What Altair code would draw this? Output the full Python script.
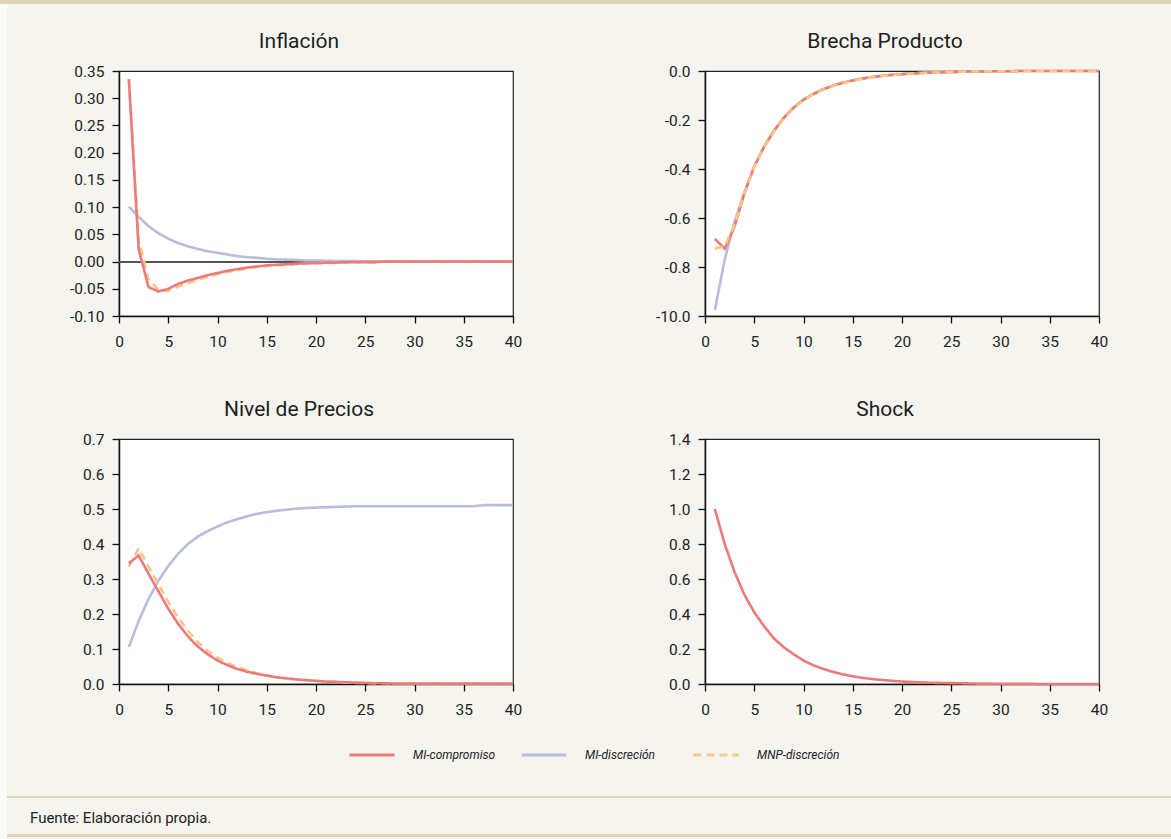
import altair as alt
import pandas as pd

FONT = "Roboto"

t = list(range(1, 41))
series = ["MI-compromiso", "MI-discreción", "MNP-discreción"]
colors = ["#EC7A7B", "#B8BDDB", "#F9C684"]
dashes = [[1, 0], [1, 0], [8, 5]]

# ---- Inflación
infl_comp = [0.335, 0.022, -0.047, -0.055, -0.050, -0.041, -0.035, -0.030, -0.025, -0.021,
             -0.017, -0.014, -0.011, -0.009, -0.007, -0.006, -0.005, -0.004, -0.003, -0.003,
             -0.002, -0.002, -0.001, -0.001, -0.001, -0.001, 0.0, 0.0, 0.0, 0.0,
             0.0, 0.0, 0.0, 0.0, 0.0, 0.0, 0.0, 0.0, 0.0, 0.0]
infl_disc = [0.101, 0.082, 0.065, 0.052, 0.042, 0.034, 0.028, 0.023, 0.019, 0.016,
             0.013, 0.010, 0.008, 0.007, 0.005, 0.004, 0.0035, 0.003, 0.002, 0.002,
             0.0015, 0.001, 0.001, 0.001, 0.0005, 0.0005, 0.0, 0.0, 0.0, 0.0,
             0.0, 0.0, 0.0, 0.0, 0.0, 0.0, 0.0, 0.0, 0.0, 0.0]
infl_mnp = [0.335, 0.040, -0.033, -0.052, -0.054, -0.046, -0.040, -0.034, -0.028, -0.023,
            -0.019, -0.016, -0.013, -0.010, -0.008, -0.007, -0.006, -0.005, -0.004, -0.003,
            -0.003, -0.002, -0.002, -0.001, -0.001, -0.001, 0.0, 0.0, 0.0, 0.0,
            0.0, 0.0, 0.0, 0.0, 0.0, 0.0, 0.0, 0.0, 0.0, 0.0]

# ---- Brecha Producto
brecha_comp = [-0.685, -0.725, -0.635, -0.500, -0.390, -0.310, -0.245, -0.192, -0.150, -0.118,
               -0.094, -0.075, -0.060, -0.048, -0.039, -0.031, -0.025, -0.020, -0.016, -0.013,
               -0.010, -0.008, -0.006, -0.005, -0.004, -0.003, -0.002, -0.002, -0.001, -0.001,
               -0.001, 0.0, 0.0, 0.0, 0.0, 0.0, 0.0, 0.0, 0.0, 0.0]
brecha_disc = [-0.975, -0.770, -0.615, -0.495, -0.390, -0.308, -0.243, -0.190, -0.148, -0.116,
               -0.093, -0.074, -0.059, -0.047, -0.038, -0.030, -0.024, -0.019, -0.015, -0.012,
               -0.010, -0.008, -0.006, -0.005, -0.004, -0.003, -0.002, -0.002, -0.001, -0.001,
               -0.001, 0.0, 0.0, 0.0, 0.0, 0.0, 0.0, 0.0, 0.0, 0.0]
brecha_mnp = [-0.725, -0.715, -0.628, -0.502, -0.392, -0.312, -0.247, -0.194, -0.152, -0.119,
              -0.095, -0.076, -0.061, -0.049, -0.040, -0.032, -0.026, -0.020, -0.016, -0.013,
              -0.010, -0.008, -0.006, -0.005, -0.004, -0.003, -0.002, -0.002, -0.001, -0.001,
              -0.001, 0.0, 0.0, 0.0, 0.0, 0.0, 0.0, 0.0, 0.0, 0.0]

# ---- Nivel de Precios
precios_comp = [0.345, 0.367, 0.315, 0.265, 0.215, 0.172, 0.136, 0.107, 0.085, 0.067,
                0.054, 0.043, 0.035, 0.029, 0.024, 0.019, 0.016, 0.013, 0.011, 0.009,
                0.007, 0.006, 0.005, 0.004, 0.003, 0.002, 0.002, 0.001, 0.001, 0.001,
                0.001, 0.001, 0.001, 0.001, 0.001, 0.001, 0.001, 0.001, 0.001, 0.001]
precios_disc = [0.106, 0.180, 0.243, 0.295, 0.337, 0.372, 0.400, 0.421, 0.437, 0.450,
                0.462, 0.471, 0.479, 0.486, 0.491, 0.495, 0.498, 0.501, 0.503, 0.504,
                0.505, 0.506, 0.507, 0.508, 0.508, 0.508, 0.508, 0.508, 0.508, 0.508,
                0.508, 0.508, 0.508, 0.508, 0.508, 0.508, 0.511, 0.511, 0.511, 0.511]
precios_mnp = [0.335, 0.388, 0.335, 0.285, 0.235, 0.190, 0.152, 0.120, 0.095, 0.075,
               0.060, 0.048, 0.039, 0.031, 0.025, 0.020, 0.016, 0.013, 0.011, 0.009,
               0.007, 0.006, 0.004, 0.003, 0.003, 0.002, 0.002, 0.001, 0.001, 0.001,
               0.001, 0.001, 0.001, 0.001, 0.001, 0.001, 0.001, 0.001, 0.001, 0.001]

# ---- Shock
shock_comp = [1.000, 0.800, 0.640, 0.510, 0.410, 0.330, 0.260, 0.210, 0.170, 0.134,
              0.107, 0.086, 0.069, 0.055, 0.044, 0.035, 0.028, 0.023, 0.018, 0.014,
              0.012, 0.009, 0.007, 0.006, 0.005, 0.004, 0.003, 0.002, 0.002, 0.001,
              0.001, 0.001, 0.001, 0.0, 0.0, 0.0, 0.0, 0.0, 0.0, 0.0]


def long(pairs):
    rows = []
    for name, vals in pairs:
        for ti, v in zip(t, vals):
            rows.append({"t": ti, "v": v, "serie": name})
    return pd.DataFrame(rows)


MINUS = "\u2212"
W, H = 394, 245

leg = alt.Legend(title=None, orient="none", legendX=229, legendY=660, direction="horizontal",
                 columns=3, symbolType="stroke", symbolSize=2025, symbolStrokeWidth=3,
                 labelFont=FONT, labelFontSize=12, labelFontStyle="italic", labelColor="#222",
                 labelOffset=17, columnPadding=19, gridAlign="all", padding=0)


def panel(df, title, ydomain, yvalues, fmt, expr=None, zero=False):
    lab = expr if expr else f"replace(format(datum.value, '{fmt}'), '{MINUS}', '-')"
    yscale = alt.Scale(domain=ydomain, nice=False, zero=False)
    yaxis = alt.Axis(values=yvalues, title=None, labelExpr=lab, labelPadding=8,
                     labelFlush=False, labelOverlap=False)
    lines = alt.Chart(df).mark_line(strokeWidth=2.6).encode(
        x=alt.X("t:Q", scale=alt.Scale(domain=[0, 40], nice=False),
                axis=alt.Axis(values=list(range(0, 41, 5)), title=None, labelPadding=11,
                              labelFlush=False, labelOverlap=False)),
        y=alt.Y("v:Q", scale=yscale, axis=yaxis),
        color=alt.Color("serie:N", scale=alt.Scale(domain=series, range=colors), legend=leg),
        strokeDash=alt.StrokeDash("serie:N", scale=alt.Scale(domain=series, range=dashes), legend=leg),
    )
    layers = []
    if zero:
        layers.append(alt.Chart(df).mark_rule(color="#555555", strokeWidth=1.2).encode(
            y=alt.YDatum(0, scale=yscale, axis=yaxis)))
    layers.append(lines)
    return alt.layer(*layers).properties(
        width=W, height=H,
        title=alt.TitleParams(title, fontSize=21, font=FONT, fontWeight="normal",
                              color="#1e1e1e", offset=12, anchor="middle", frame="group", dx=-17))


one = pd.DataFrame({"a": [0]})
TAN = "#DFD4B4"
# page frame decorations, placed relative to the footer cell origin (x=119, y=807 on the page)
footer = alt.layer(
    alt.Chart(one).mark_rect(color="#FBFBF9").encode(
        x=alt.value(-119), x2=alt.value(-112), y=alt.value(-807), y2=alt.value(32)),
    alt.Chart(one).mark_rect(color=TAN).encode(
        x=alt.value(-119), x2=alt.value(1052), y=alt.value(-807), y2=alt.value(-803)),
    alt.Chart(one).mark_rect(color=TAN).encode(
        x=alt.value(-112), x2=alt.value(1052), y=alt.value(-11), y2=alt.value(-9)),
    alt.Chart(one).mark_rect(color=TAN).encode(
        x=alt.value(-112), x2=alt.value(1052), y=alt.value(27), y2=alt.value(30)),
    alt.Chart(one).mark_text(text="Fuente: Elaboración propia.", align="left", baseline="middle",
                             font=FONT, fontSize=15, color="#222").encode(
        x=alt.value(-89), y=alt.value(11)),
).properties(width=W, height=1, view=alt.ViewBackground(strokeOpacity=0, fillOpacity=0))

# draw order per panel: later series are drawn on top
p1 = panel(long([("MI-discreción", infl_disc), ("MNP-discreción", infl_mnp), ("MI-compromiso", infl_comp)]),
           "Inflación", [-0.10, 0.35],
           [-0.10, -0.05, 0.0, 0.05, 0.10, 0.15, 0.20, 0.25, 0.30, 0.35], ".2f", zero=True)
p2 = panel(long([("MI-discreción", brecha_disc), ("MI-compromiso", brecha_comp), ("MNP-discreción", brecha_mnp)]),
           "Brecha Producto", [-1.0, 0.0], [-1.0, -0.8, -0.6, -0.4, -0.2, 0.0], ".1f",
           expr=f"datum.value < -0.9 ? '-10.0' : replace(format(datum.value, '.1f'), '{MINUS}', '-')")
p3 = panel(long([("MI-discreción", precios_disc), ("MNP-discreción", precios_mnp), ("MI-compromiso", precios_comp)]),
           "Nivel de Precios", [0.0, 0.7], [0.0, 0.1, 0.2, 0.3, 0.4, 0.5, 0.6, 0.7], ".1f")
p4 = panel(long([("MI-compromiso", shock_comp)]),
           "Shock", [0.0, 1.4], [0.0, 0.2, 0.4, 0.6, 0.8, 1.0, 1.2, 1.4], ".1f")

chart = alt.concat(
    p1, p2, p3, p4, footer, columns=2, bounds="flush",
    spacing={"row": 123, "column": 192},
).properties(
    background="#F5F4EF", padding=0
).configure_view(
    stroke="#222222", strokeWidth=1.2, fill="white"
).configure_axis(
    domainColor="#111111", domainWidth=1.5, tickColor="#111111", tickWidth=1.3, tickSize=7,
    labelFont=FONT, labelFontSize=15.5, labelColor="#222222", grid=False
)

chart.save("out.html", embed_options={"renderer": "svg", "actions": False})
